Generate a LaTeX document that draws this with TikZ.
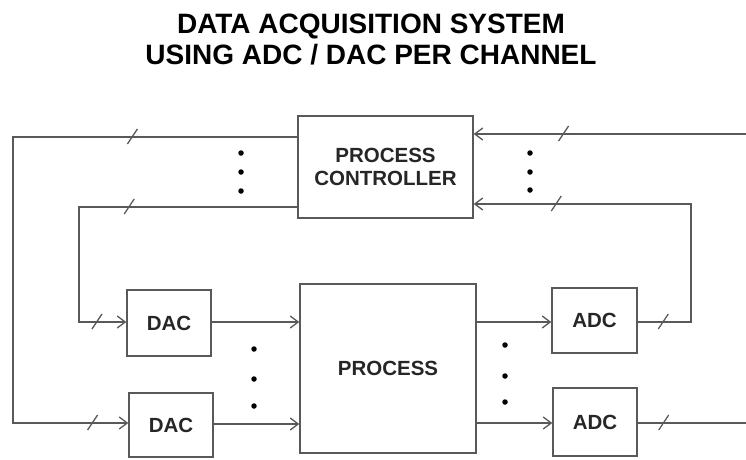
\documentclass[tikz,border=0pt]{standalone}
\usepackage{fontspec}
\setmainfont{Liberation Sans}
\usetikzlibrary{arrows.meta,calc}
\begin{document}
\begin{tikzpicture}[x=1pt,y=-1pt,
  wire/.style={draw=black!65,line width=1.4pt},
  arr/.style={wire,-{Straight Barb[length=8pt,width=12pt,line width=1.3pt]}},
  blk/.style={draw=black!65,line width=1.4pt,fill=white,inner sep=0pt,
    font=\bfseries\fontsize{20.5}{23.5}\selectfont,text=black!85,align=center},
  ttl/.style={font=\bfseries\fontsize{28}{31}\selectfont,anchor=base,inner sep=0pt},
  tickmark/.pic={\draw[black!65,line width=1.3pt] (-5,7) -- (5,-8);},
  dot/.style={circle,fill=black,inner sep=0pt,minimum size=5.5pt}]
\useasboundingbox (0,0) rectangle (746,459);
\fill[white] (0,0) rectangle (746,459);

% title
\node[ttl] (t1) at (371,33) {DATA ACQUISITION SYSTEM};
\node[ttl] (t2) at (371,64) {USING ADC / DAC PER CHANNEL};

% blocks
\node[blk,minimum width=175pt,minimum height=102pt] (pc) at (385.5,167) {PROCESS\\CONTROLLER};
\node[blk,minimum width=176pt,minimum height=169pt] (proc) at (388,368.5) {PROCESS};
\node[blk,minimum width=84pt,minimum height=66pt] (dac1) at (169,323) {DAC};
\node[blk,minimum width=84pt,minimum height=64pt] (dac2) at (171,425) {DAC};
\node[blk,minimum width=85pt,minimum height=65pt] (adc1) at (594.5,320.5) {ADC};
\node[blk,minimum width=84pt,minimum height=68pt] (adc2) at (595,422) {ADC};

% free ends on the right edge
\coordinate (rtop) at (746,134);
\coordinate (rbot) at (746,423);

% controller -> DACs
\draw[arr] (pc.west |- 0,137) -- coordinate[pos=0.58] (k1) (13,137) -- (13,423) -- coordinate[pos=0.69] (k2) (dac2.west |- 0,423);
\draw[arr] (pc.west |- 0,207) -- coordinate[pos=0.77] (k3) (79,207) -- (79,322) -- coordinate[pos=0.38] (k4) (dac1.west |- 0,322);

% DACs -> process
\draw[arr] (dac1.east |- 0,322) -- (proc.west |- 0,322);
\draw[arr] (dac2.east |- 0,424) -- (proc.west |- 0,424);

% process -> ADCs
\draw[arr] (proc.east |- 0,322) -- (adc1.west |- 0,322);
\draw[arr] (proc.east |- 0,423) -- (adc2.west |- 0,423);

% ADCs -> controller
\draw[arr] (adc1.east |- 0,322) -- coordinate[pos=0.48] (k5) (691,322) -- (691,204) -- coordinate[pos=0.62] (k6) (pc.east |- 0,204);
\draw[wire] (adc2.east |- 0,423) -- coordinate[pos=0.24] (k7) (rbot);
\draw[arr] (rtop) -- coordinate[pos=0.67] (k8) (pc.east |- 0,134);

% bus ticks
\foreach \k in {k1,k2,k3,k4,k5,k6,k7,k8} \pic at (\k) {tickmark};

% ellipsis dots
\foreach \y in {153,172,191} \node[dot] at (241,\y) {};
\foreach \y in {153,172,190} \node[dot] at (530,\y) {};
\foreach \y in {349,379,406} \node[dot] at (254,\y) {};
\foreach \y in {345,376,402} \node[dot] at (505,\y) {};
\end{tikzpicture}
\end{document}
